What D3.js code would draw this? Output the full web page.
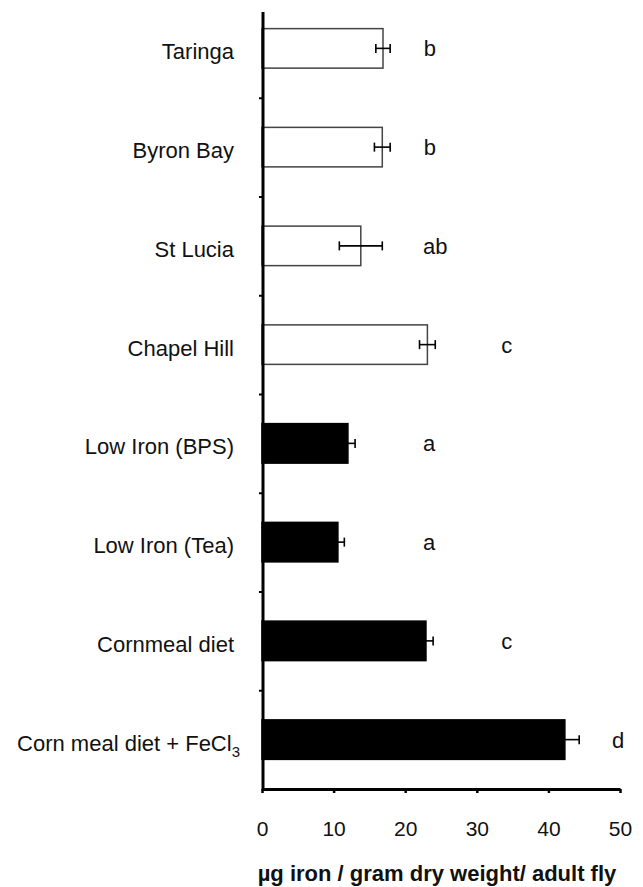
<!DOCTYPE html>
<html>
<head>
<meta charset="utf-8">
<script src="https://cdn.jsdelivr.net/npm/d3@7"></script>
<style>
  body { margin: 0; background: #fff; }
  text { font-family: "Liberation Sans", Arial, sans-serif; fill: #111; }
</style>
</head>
<body>
<div id="chart"></div>
<script>
// data
var categories = ["Taringa", "Byron Bay", "St Lucia", "Chapel Hill",
                  "Low Iron (BPS)", "Low Iron (Tea)", "Cornmeal diet", "Corn meal diet + FeCl3"];
var ironValues = [16.9, 16.8, 13.8, 23.1, 12.0, 10.6, 22.9, 42.3];
var ironErrors = [1.0, 1.1, 3.0, 1.1, 1.0, 0.9, 1.0, 2.0];
var groups = ["field", "field", "field", "field", "lab", "lab", "lab", "lab"];
var sigLetters = ["b", "b", "ab", "c", "a", "a", "c", "d"];
var xTicks = [0, 10, 20, 30, 40, 50];

var svgwidth = 643;
var svgheight = 887;

var svg = d3.select("#chart").append("svg")
    .attr("width", svgwidth).attr("height", svgheight);

var x = d3.scaleLinear().domain([0, 50]).range([262, 620]);
var y = d3.scaleBand().domain(categories).range([-1, 789])
    .paddingInner(0.6).paddingOuter(0.3);
// boundaries between categories (for the left ticks)
var yIdx = d3.scaleLinear().domain([0, categories.length]).range([-1, 789]);

var fill = d3.scaleOrdinal().domain(["field", "lab"]).range(["#fff", "#000"]);
var edge = d3.scaleOrdinal().domain(["field", "lab"]).range(["#444", "#000"]);

// letters sit in columns to the right of the bars
var letterCol = {a: 22.5, b: 22.6, ab: 22.5, c: 33.4, d: 48.9};

var data = categories.map(function(c, i) {
    return {cat: c, v: ironValues[i], e: ironErrors[i], g: groups[i], s: sigLetters[i]};
});

// bars
svg.append("g").selectAll("rect")
    .data(data).enter().append("rect")
    .attr("x", x(0))
    .attr("y", d => y(d.cat))
    .attr("width", d => x(d.v) - x(0))
    .attr("height", y.bandwidth())
    .attr("fill", d => fill(d.g))
    .attr("stroke", d => edge(d.g))
    .attr("stroke-width", 1.5);

// error bars (black so the lower half vanishes inside the black bars)
var eb = svg.append("g").attr("stroke", "#000").attr("stroke-width", 1.6)
    .selectAll("g").data(data).enter().append("g")
    .attr("transform", d => `translate(0, ${y(d.cat) + y.bandwidth() / 2})`);
eb.append("line").attr("x1", d => x(d.v - d.e)).attr("x2", d => x(d.v + d.e));
eb.append("line").attr("x1", d => x(d.v - d.e)).attr("x2", d => x(d.v - d.e)).attr("y1", -4.5).attr("y2", 4.5);
eb.append("line").attr("x1", d => x(d.v + d.e)).attr("x2", d => x(d.v + d.e)).attr("y1", -4.5).attr("y2", 4.5);

// significance letters
svg.append("g").selectAll("text")
    .data(data).enter().append("text")
    .attr("x", d => x(letterCol[d.s]))
    .attr("y", d => y(d.cat) + y.bandwidth() / 2)
    .attr("dy", "0.36em")
    .style("font-size", "22px")
    .text(d => d.s);

// category labels
var labels = svg.append("g").selectAll("text")
    .data(data).enter().append("text")
    .attr("text-anchor", "end")
    .attr("x", d => /Cl3$/.test(d.cat) ? 240 : 234)
    .attr("y", d => y(d.cat) + y.bandwidth() / 2)
    .attr("dy", "0.5em")
    .style("font-size", "22px");
labels.each(function(d) {
    var t = d3.select(this);
    if (/Cl3$/.test(d.cat)) {
        t.append("tspan").text(d.cat.slice(0, -1));
        t.append("tspan").attr("dy", 6).style("font-size", "15px").text("3");
    } else {
        t.text(d.cat);
    }
});

// left axis
var leftAxis = d3.axisLeft(yIdx).tickValues(d3.range(1, categories.length))
    .tickSize(4).tickFormat("");
var gl = svg.append("g").attr("transform", `translate(${x(0) + 1}, 0)`).call(leftAxis);
gl.select(".domain").remove();
gl.selectAll(".tick line").attr("stroke", "#000").attr("stroke-width", 2);
gl.append("line").attr("y1", 12).attr("y2", yIdx(categories.length) + 1)
    .attr("stroke", "#000").attr("stroke-width", 3);

// bottom axis
var bottomAxis = d3.axisBottom(x).tickValues(xTicks).tickSize(4).tickSizeOuter(0)
    .tickPadding(28).tickFormat(d3.format("d"));
var gb = svg.append("g").attr("transform", `translate(0, ${yIdx(categories.length)})`).call(bottomAxis);
gb.select(".domain").attr("stroke", "#000").attr("stroke-width", 3);
gb.selectAll(".tick line").attr("stroke", "#000").attr("stroke-width", 2.5);
gb.selectAll(".tick text").style("font-size", "21px")
    .style("font-family", "'Liberation Sans', Arial, sans-serif").attr("fill", "#111");

// axis title
svg.append("text")
    .attr("x", 437).attr("y", 881)
    .attr("text-anchor", "middle")
    .style("font-size", "22px").style("font-weight", "bold")
    .text("\u00b5g iron / gram dry weight/ adult fly");
</script>
</body>
</html>
